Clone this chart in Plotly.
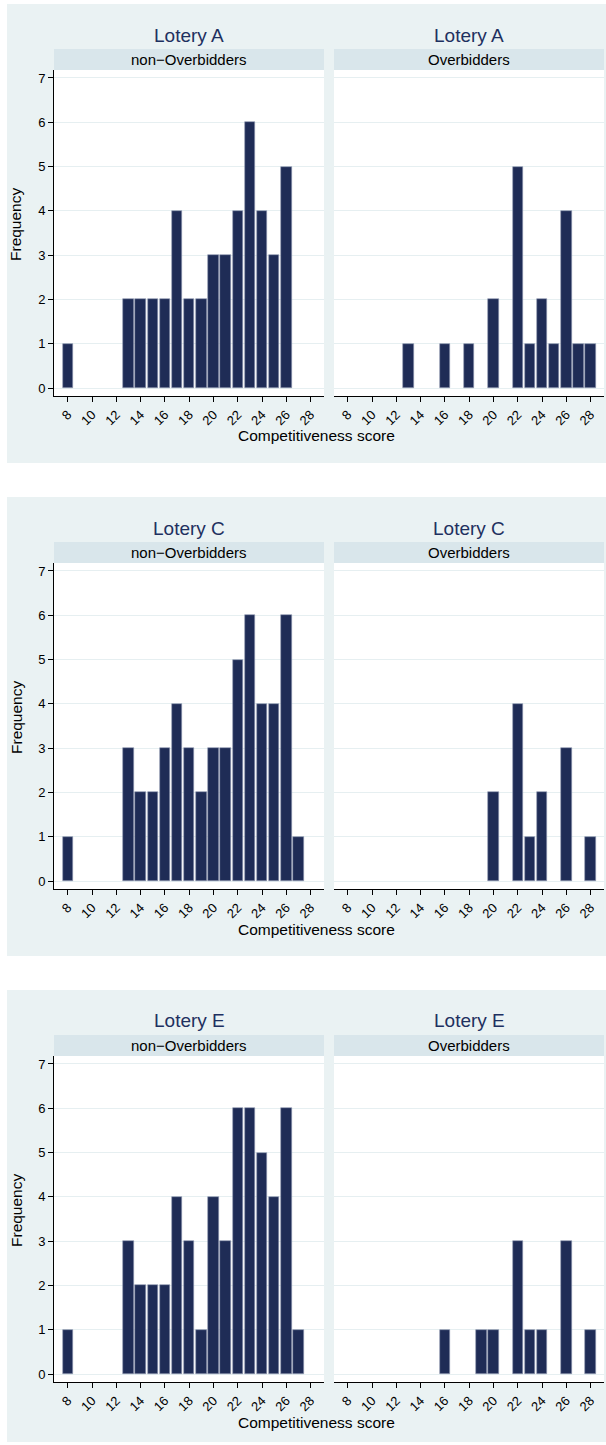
import plotly.graph_objects as go

W, H = 606, 1445

lotteries = ["Lotery A", "Lotery C", "Lotery E"]
groups = ["non\u2212Overbidders", "Overbidders"]

# Competitiveness score bins and frequencies
A_non_x = [8, 13, 14, 15, 16, 17, 18, 19, 20, 21, 22, 23, 24, 25, 26]
A_non_y = [1, 2, 2, 2, 2, 4, 2, 2, 3, 3, 4, 6, 4, 3, 5]
A_over_x = [13, 16, 18, 20, 22, 23, 24, 25, 26, 27, 28]
A_over_y = [1, 1, 1, 2, 5, 1, 2, 1, 4, 1, 1]

C_non_x = [8, 13, 14, 15, 16, 17, 18, 19, 20, 21, 22, 23, 24, 25, 26, 27]
C_non_y = [1, 3, 2, 2, 3, 4, 3, 2, 3, 3, 5, 6, 4, 4, 6, 1]
C_over_x = [20, 22, 23, 24, 26, 28]
C_over_y = [2, 4, 1, 2, 3, 1]

E_non_x = [8, 13, 14, 15, 16, 17, 18, 19, 20, 21, 22, 23, 24, 25, 26, 27]
E_non_y = [1, 3, 2, 2, 2, 4, 3, 1, 4, 3, 6, 6, 5, 4, 6, 1]
E_over_x = [16, 19, 20, 22, 23, 24, 26, 28]
E_over_y = [1, 1, 1, 3, 1, 1, 3, 1]

x_ticks = [8, 10, 12, 14, 16, 18, 20, 22, 24, 26, 28]
y_ticks = [0, 1, 2, 3, 4, 5, 6, 7]

data = [
    [(A_non_x, A_non_y), (A_over_x, A_over_y)],
    [(C_non_x, C_non_y), (C_over_x, C_over_y)],
    [(E_non_x, E_non_y), (E_over_x, E_over_y)],
]

BG = "#eaf2f3"
STRIP = "#d9e6eb"
BAR = "#1f2c56"
TITLE = "#1e3060"
FONT = "Liberation Sans, Arial, sans-serif"

panel_tops = [4, 497, 990]
panel_h = 459
x_doms_px = [(54, 324), (334, 604)]

def px_x(v):
    return v / W

def px_y(v):
    return 1 - v / H

fig = go.Figure()
shapes = []
annotations = []
layout = {}

for p, top in enumerate(panel_tops):
    bottom = min(top + panel_h, H - 3)
    shapes.append(dict(type="rect", xref="paper", yref="paper",
                       x0=px_x(7), x1=px_x(606), y0=px_y(bottom), y1=px_y(top),
                       fillcolor=BG, line=dict(width=0), layer="below"))
    plot_top = top + 66
    plot_bot = top + 392
    for s in range(2):
        n = p * 2 + s + 1
        xs, ys = data[p][s]
        xa = "x" if n == 1 else f"x{n}"
        ya = "y" if n == 1 else f"y{n}"
        fig.add_trace(go.Bar(x=xs, y=ys, xaxis=xa, yaxis=ya, width=0.86,
                             marker=dict(color=BAR, line=dict(width=0.6, color="#8e97b0")),
                             showlegend=False, hoverinfo="skip"))
        x0p, x1p = x_doms_px[s]
        # white plot area
        shapes.append(dict(type="rect", xref="paper", yref="paper",
                           x0=px_x(x0p), x1=px_x(x1p), y0=px_y(plot_bot), y1=px_y(plot_top),
                           fillcolor="white", line=dict(width=0), layer="below"))
        # strip
        shapes.append(dict(type="rect", xref="paper", yref="paper",
                           x0=px_x(x0p), x1=px_x(x1p), y0=px_y(top + 66), y1=px_y(top + 45),
                           fillcolor=STRIP, line=dict(width=0), layer="below"))
        cx = (x0p + x1p) / 2
        annotations.append(dict(xref="paper", yref="paper", x=px_x(cx), y=px_y(top + 55.5),
                                text=groups[s], showarrow=False,
                                font=dict(family=FONT, size=15, color="black"),
                                xanchor="center", yanchor="middle"))
        annotations.append(dict(xref="paper", yref="paper", x=px_x(cx), y=px_y(top + 31),
                                text=lotteries[p], showarrow=False,
                                font=dict(family=FONT, size=19, color=TITLE),
                                xanchor="center", yanchor="middle"))
        xkey = "xaxis" if n == 1 else f"xaxis{n}"
        ykey = "yaxis" if n == 1 else f"yaxis{n}"
        layout[xkey] = dict(domain=[px_x(x0p), px_x(x1p)], anchor=ya, range=[6.87, 29.1],
                            tickvals=x_ticks, ticktext=[str(v) for v in x_ticks],
                            tickangle=-45, ticks="outside", ticklen=5, tickcolor="black",
                            showline=True, linecolor="black", linewidth=1,
                            showgrid=False, zeroline=False, fixedrange=True,
                            tickfont=dict(family=FONT, size=13, color="black"))
        layout[ykey] = dict(domain=[px_y(plot_bot), px_y(plot_top)], anchor=xa,
                            range=[-0.18, 7.18], tickvals=y_ticks,
                            showticklabels=(s == 0),
                            ticks="outside" if s == 0 else "", ticklen=5, tickcolor="black",
                            showline=(s == 0), linecolor="black", linewidth=1,
                            showgrid=True, gridcolor="#e6eff1", gridwidth=1,
                            zeroline=False, fixedrange=True,
                            tickfont=dict(family=FONT, size=13, color="black"))
    annotations.append(dict(xref="paper", yref="paper", x=px_x(317), y=px_y(top + 432),
                            text="Competitiveness score", showarrow=False,
                            font=dict(family=FONT, size=15.5, color="black"),
                            xanchor="center", yanchor="middle"))
    annotations.append(dict(xref="paper", yref="paper", x=px_x(16), y=px_y(top + 221),
                            text="Frequency", showarrow=False, textangle=-90,
                            font=dict(family=FONT, size=15.5, color="black"),
                            xanchor="center", yanchor="middle"))

fig.update_layout(width=W, height=H, margin=dict(l=0, r=0, t=0, b=0),
                  paper_bgcolor="white", plot_bgcolor="rgba(0,0,0,0)",
                  bargap=0, shapes=shapes, annotations=annotations, **layout)

fig.write_html("out.html", config={"displayModeBar": False},
               post_script="document.body.style.margin='0';document.body.style.padding='0';")
